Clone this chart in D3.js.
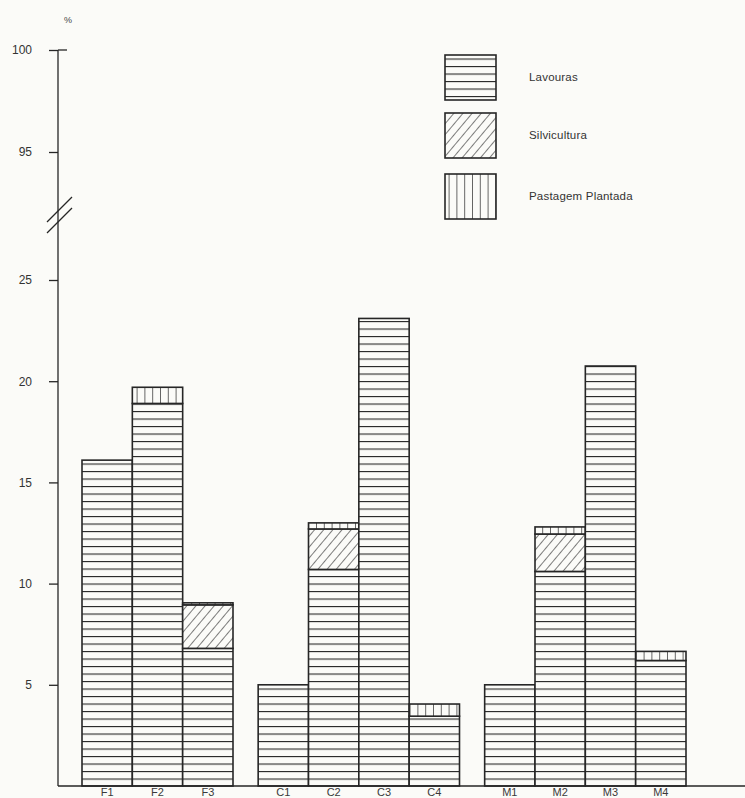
<!DOCTYPE html>
<html>
<head>
<meta charset="utf-8">
<script src="https://cdn.jsdelivr.net/npm/d3@7"></script>
<style>
  html, body { margin: 0; padding: 0; background: #fbfbf8; }
  svg { display: block; font-family: "Liberation Sans", Arial, sans-serif; }
</style>
</head>
<body>
<script>
// ---- data ----
const categories   = ["F1","F2","F3","C1","C2","C3","C4","M1","M2","M3","M4"];
const groups       = ["F","F","F","C","C","C","C","M","M","M","M"];
const lavouras     = [16.1, 18.9, 6.8, 5.0, 10.7, 23.1, 3.45, 5.0, 10.6, 20.75, 6.2];
const silvicultura = [0,    0,    2.15, 0,  2.0,  0,    0,    0,   1.85, 0,     0];
const pastagem     = [0,    0.8,  0.1,  0,  0.3,  0,    0.6,  0,   0.35, 0,     0.45];
const seriesNames  = ["Lavouras", "Silvicultura", "Pastagem Plantada"];
const lowerTicks   = [5, 10, 15, 20, 25];
const upperTicks   = [95, 100];

const W = 745, H = 798;
const ink = "#262626";
const svg = d3.select("body").append("svg").attr("width", W).attr("height", H);
svg.append("rect").attr("width", W).attr("height", H).attr("fill", "#fbfbf8");

const axisX = 58, baseY = 786;
const yLow = d3.scaleLinear().domain([0, 25]).range([baseY, 280]);
const yHigh = d3.scaleLinear().domain([95, 100]).range([152, 50]);

// slot positions: bars within group adjacent, half-bar gap between groups
const groupOrder = Array.from(new Set(groups));
const slot = categories.map((c, i) => i + 0.5 * groupOrder.indexOf(groups[i]));
const x = d3.scaleLinear().domain([0, 12]).range([82, 686]);
const bw = x(1) - x(0);

// ---- patterns ----
const defs = svg.append("defs");
const hp = defs.append("pattern").attr("id", "pLav").attr("patternUnits", "userSpaceOnUse")
  .attr("width", 10).attr("height", 7.5).attr("y", baseY);
hp.append("rect").attr("width", 10).attr("height", 7.5).attr("fill", "#fbfbf8");
hp.append("line").attr("x1", 0).attr("x2", 10).attr("y1", 0).attr("y2", 0)
  .attr("stroke", ink).attr("stroke-width", 2.2);

const dp = defs.append("pattern").attr("id", "pSil").attr("patternUnits", "userSpaceOnUse")
  .attr("width", 7).attr("height", 7).attr("patternTransform", "rotate(40)");
dp.append("rect").attr("width", 7).attr("height", 7).attr("fill", "#fbfbf8");
dp.append("line").attr("x1", 0).attr("x2", 0).attr("y1", 0).attr("y2", 7)
  .attr("stroke", ink).attr("stroke-width", 1.2);

const vp = defs.append("pattern").attr("id", "pPas").attr("patternUnits", "userSpaceOnUse")
  .attr("width", 7.8).attr("height", 10).attr("x", 82);
vp.append("rect").attr("width", 7.8).attr("height", 10).attr("fill", "#fbfbf8");
vp.append("line").attr("x1", 0).attr("x2", 0).attr("y1", 0).attr("y2", 10)
  .attr("stroke", ink).attr("stroke-width", 1.4);

const fills = ["url(#pLav)", "url(#pSil)", "url(#pPas)"];

// ---- bars ----
const rows = categories.map((c, i) => ({cat: c, slot: slot[i], v: [lavouras[i], silvicultura[i], pastagem[i]]}));
const segs = [];
rows.forEach(r => {
  let acc = 0;
  r.v.forEach((v, k) => {
    if (v > 0) segs.push({slot: r.slot, y0: acc, y1: acc + v, k});
    acc += v;
  });
});
svg.append("g").selectAll("rect").data(segs).join("rect")
  .attr("x", d => x(d.slot))
  .attr("width", bw)
  .attr("y", d => yLow(d.y1))
  .attr("height", d => yLow(d.y0) - yLow(d.y1))
  .attr("fill", d => fills[d.k])
  .attr("stroke", ink).attr("stroke-width", 1.6);

// category labels
svg.append("g").selectAll("text").data(rows).join("text")
  .attr("x", d => x(d.slot) + bw / 2)
  .attr("y", 796)
  .attr("text-anchor", "middle")
  .attr("font-size", 11).attr("fill", "#3a3a3a")
  .text(d => d.cat);

// ---- axes ----
svg.append("line").attr("x1", axisX).attr("x2", axisX).attr("y1", yHigh(100)).attr("y2", baseY)
  .attr("stroke", ink).attr("stroke-width", 1.3);
svg.append("line").attr("x1", axisX).attr("x2", W).attr("y1", baseY).attr("y2", baseY)
  .attr("stroke", ink).attr("stroke-width", 1.5);

const lowAxis = d3.axisLeft(yLow).tickValues(lowerTicks).tickSize(9).tickPadding(17).tickFormat(d3.format("d"));
const highAxis = d3.axisLeft(yHigh).tickValues(upperTicks).tickSize(9).tickPadding(17).tickFormat(d3.format("d"));
[lowAxis, highAxis].forEach(ax => {
  const g = svg.append("g").attr("transform", `translate(${axisX},0)`).call(ax);
  g.select(".domain").remove();
  g.selectAll("line").attr("stroke", ink).attr("stroke-width", 1.3);
  g.selectAll("text").attr("font-size", 12).attr("fill", "#333")
    .attr("font-family", "'Liberation Sans', Arial, sans-serif");
});
// top cap extends right
svg.append("line").attr("x1", axisX).attr("x2", axisX + 9).attr("y1", yHigh(100)).attr("y2", yHigh(100))
  .attr("stroke", ink).attr("stroke-width", 1.3);

// break marks
[0, 11].forEach(dy => {
  svg.append("line").attr("x1", 47).attr("y1", 222 + dy).attr("x2", 72).attr("y2", 197 + dy)
    .attr("stroke", ink).attr("stroke-width", 1.2);
});

svg.append("text").attr("x", 68).attr("y", 23).attr("text-anchor", "middle")
  .attr("font-size", 9).attr("fill", "#444").text("%");

// ---- legend ----
const legTops = [55, 113, 174];
const lg = svg.append("g").selectAll("g").data(seriesNames).join("g");
lg.append("rect").attr("x", 445).attr("y", (d, i) => legTops[i]).attr("width", 51).attr("height", 45)
  .attr("fill", (d, i) => fills[i]).attr("stroke", ink).attr("stroke-width", 1.6);
lg.append("text").attr("x", 529).attr("y", (d, i) => legTops[i] + 26)
  .attr("font-size", 11.5).attr("fill", "#333").attr("letter-spacing", 0.2).text(d => d);
</script>
</body>
</html>
